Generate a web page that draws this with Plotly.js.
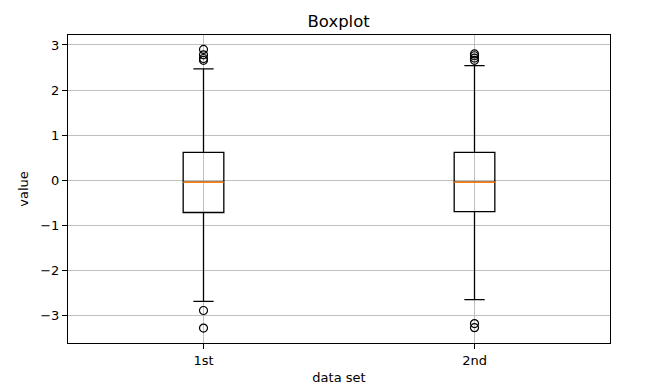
<!DOCTYPE html>
<html>
<head>
<meta charset="utf-8">
<script src="https://cdn.plot.ly/plotly-3.0.1.min.js"></script>
<style>html,body{margin:0;padding:0;background:#fff;}#chart{width:645px;height:386px;}</style>
</head>
<body>
<div id="chart"></div>
<script>
const categories = ["1st", "2nd"];
const q1Values = [-0.71, -0.69];
const medianValues = [-0.04, -0.04];
const q3Values = [0.62, 0.62];
const lowerWhisker = [-2.68, -2.64];
const upperWhisker = [2.47, 2.54];
const outliers1 = [2.90, 2.78, 2.70, 2.66, -2.88, -3.27];
const outliers2 = [2.80, 2.76, 2.71, 2.66, -3.17, -3.26];
const yTicks = [-3, -2, -1, 0, 1, 2, 3];

const positions = categories.map((c, i) => i + 1);
const boxW = 0.15;

const boxTrace = {
  type: "box",
  x: positions,
  q1: q1Values,
  median: medianValues,
  q3: q3Values,
  lowerfence: lowerWhisker,
  upperfence: upperWhisker,
  width: boxW,
  whiskerwidth: 0.5,
  boxpoints: false,
  fillcolor: "rgba(0,0,0,0)",
  line: {color: "#000000", width: 1.3},
  hoverinfo: "skip",
  showlegend: false
};

const medX = [], medY = [];
positions.forEach((p, i) => {
  medX.push(p - boxW / 2, p + boxW / 2, null);
  medY.push(medianValues[i], medianValues[i], null);
});
const medianTrace = {
  type: "scatter", mode: "lines", x: medX, y: medY,
  line: {color: "#ff7f0e", width: 1.6}, hoverinfo: "skip", showlegend: false
};

const allOut = [outliers1, outliers2];
const outX = [], outY = [];
allOut.forEach((arr, i) => arr.forEach(v => { outX.push(positions[i]); outY.push(v); }));
const outTrace = {
  type: "scatter", mode: "markers", x: outX, y: outY,
  marker: {symbol: "circle-open", size: 8, color: "#000000", line: {width: 1.2, color: "#000000"}},
  hoverinfo: "skip", showlegend: false
};

const font = "DejaVu Sans, sans-serif";
const layout = {
  width: 645, height: 386,
  margin: {l: 68, r: 35, t: 35, b: 43, pad: 0},
  paper_bgcolor: "#ffffff", plot_bgcolor: "#ffffff",
  font: {family: font, size: 13, color: "#000000"},
  title: {text: "Boxplot", font: {family: font, size: 16.5, color: "#000"}, x: 0.525, xanchor: "center", y: 0.945, yanchor: "middle"},
  showlegend: false,
  xaxis: {
    range: [0.5, 2.5], tickmode: "array", tickvals: positions, ticktext: categories,
    showgrid: true, gridcolor: "#b0b0b0", gridwidth: 0.8, zeroline: false,
    showline: true, linecolor: "#000", linewidth: 1, mirror: true,
    ticks: "outside", ticklen: 5, tickcolor: "#000", tickwidth: 1,
    tickfont: {family: font, size: 13},
    title: {text: "data set", font: {family: font, size: 13}, standoff: 6}
  },
  yaxis: {
    range: [-3.6, 3.22], tickmode: "array", tickvals: yTicks,
    showgrid: true, gridcolor: "#b0b0b0", gridwidth: 0.8, zeroline: false,
    showline: true, linecolor: "#000", linewidth: 1, mirror: true,
    ticks: "outside", ticklen: 5, tickcolor: "#000", tickwidth: 1,
    tickfont: {family: font, size: 13},
    title: {text: "value", font: {family: font, size: 13}, standoff: 8}
  }
};

Plotly.newPlot("chart", [boxTrace, medianTrace, outTrace], layout, {staticPlot: true, displayModeBar: false});
</script>
</body>
</html>
